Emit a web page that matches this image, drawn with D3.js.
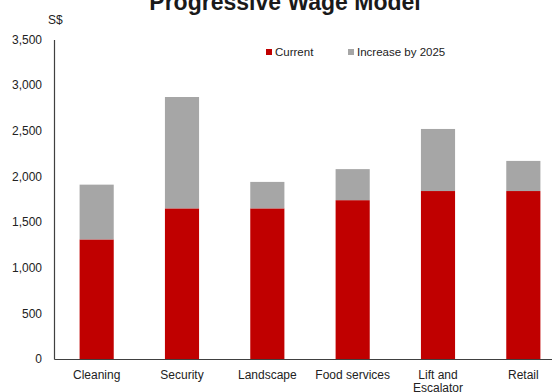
<!DOCTYPE html>
<html>
<head>
<meta charset="utf-8">
<script src="https://cdn.jsdelivr.net/npm/d3@7"></script>
<style>
  html, body { margin: 0; padding: 0; background: #fff; }
  svg { display: block; font-family: "Liberation Sans", Arial, sans-serif; }
</style>
</head>
<body>
<svg id="chart" width="552" height="392"></svg>
<script>
// Monthly wages under the Progressive Wage Model, S$
const categories = ["Cleaning", "Security", "Landscape", "Food services", "Lift and\nEscalator", "Retail"];
const current = [1310, 1650, 1650, 1740, 1840, 1840];
const increase = [600, 1220, 290, 340, 680, 330];
const seriesNames = ["Current", "Increase by 2025"];
const yTicks = [0, 500, 1000, 1500, 2000, 2500, 3000, 3500];

const colors = { "Current": "#C00000", "Increase by 2025": "#A6A6A6" };

const svg = d3.select("#chart");

const x = d3.scaleBand()
  .domain(categories)
  .range([54, 566])
  .paddingInner(0.6)
  .paddingOuter(0.3);

const y = d3.scaleLinear()
  .domain([0, 3500])
  .range([359, 39.5]);

// stacked layers
const rows = categories.map((c, i) => ({ cat: c, "Current": current[i], "Increase by 2025": increase[i] }));
const stack = d3.stack().keys(seriesNames)(rows);

svg.append("g")
  .selectAll("g")
  .data(stack)
  .join("g")
  .attr("fill", d => colors[d.key])
  .selectAll("rect")
  .data(d => d)
  .join("rect")
  .attr("x", d => x(d.data.cat))
  .attr("width", x.bandwidth())
  .attr("y", d => y(d[1]))
  .attr("height", d => y(d[0]) - y(d[1]));

// y axis
const yAxis = svg.append("g")
  .attr("transform", "translate(54,0)")
  .call(d3.axisLeft(y).tickValues(yTicks).tickSize(0).tickPadding(12)
    .tickFormat(d3.format(",")));
yAxis.select(".domain").attr("stroke", "#404040").attr("stroke-width", 1.2);
yAxis.selectAll("text").attr("font-size", 12).attr("fill", "#222")
  .attr("font-family", "Liberation Sans, Arial, sans-serif");

// x axis
const xAxis = svg.append("g")
  .attr("transform", "translate(0,359)")
  .call(d3.axisBottom(x).tickSize(0).tickPadding(0).tickFormat(""));
xAxis.select(".domain").attr("stroke", "#404040").attr("stroke-width", 1.2);

// category labels (may wrap onto two lines)
svg.append("g")
  .selectAll("text")
  .data(categories)
  .join("text")
  .attr("x", d => x(d) + x.bandwidth() / 2)
  .attr("y", 379)
  .attr("text-anchor", "middle")
  .attr("font-size", 12)
  .attr("fill", "#222")
  .each(function (d) {
    const lines = d.split("\n");
    d3.select(this).selectAll("tspan")
      .data(lines)
      .join("tspan")
      .attr("x", x(d) + x.bandwidth() / 2)
      .attr("dy", (l, i) => i === 0 ? 0 : 13)
      .text(l => l);
  });

// unit label
svg.append("text")
  .attr("x", 48)
  .attr("y", 24)
  .attr("font-size", 12)
  .attr("fill", "#222")
  .text("S$");

// title
svg.append("text")
  .attr("x", 285)
  .attr("y", 9.5)
  .attr("text-anchor", "middle")
  .attr("font-size", 23)
  .attr("font-weight", "bold")
  .attr("fill", "#1a1a1a")
  .text("Progressive Wage Model");

// legend
const legendPos = [{ x: 266 }, { x: 348 }];
const legend = svg.append("g")
  .selectAll("g")
  .data(seriesNames)
  .join("g")
  .attr("transform", (d, i) => `translate(${legendPos[i].x},52)`);
legend.append("rect")
  .attr("x", 0).attr("y", -3)
  .attr("width", 6).attr("height", 6)
  .attr("fill", d => colors[d]);
legend.append("text")
  .attr("x", 9)
  .attr("y", 4)
  .attr("font-size", 11.5)
  .attr("fill", "#222")
  .text(d => d);
</script>
</body>
</html>
